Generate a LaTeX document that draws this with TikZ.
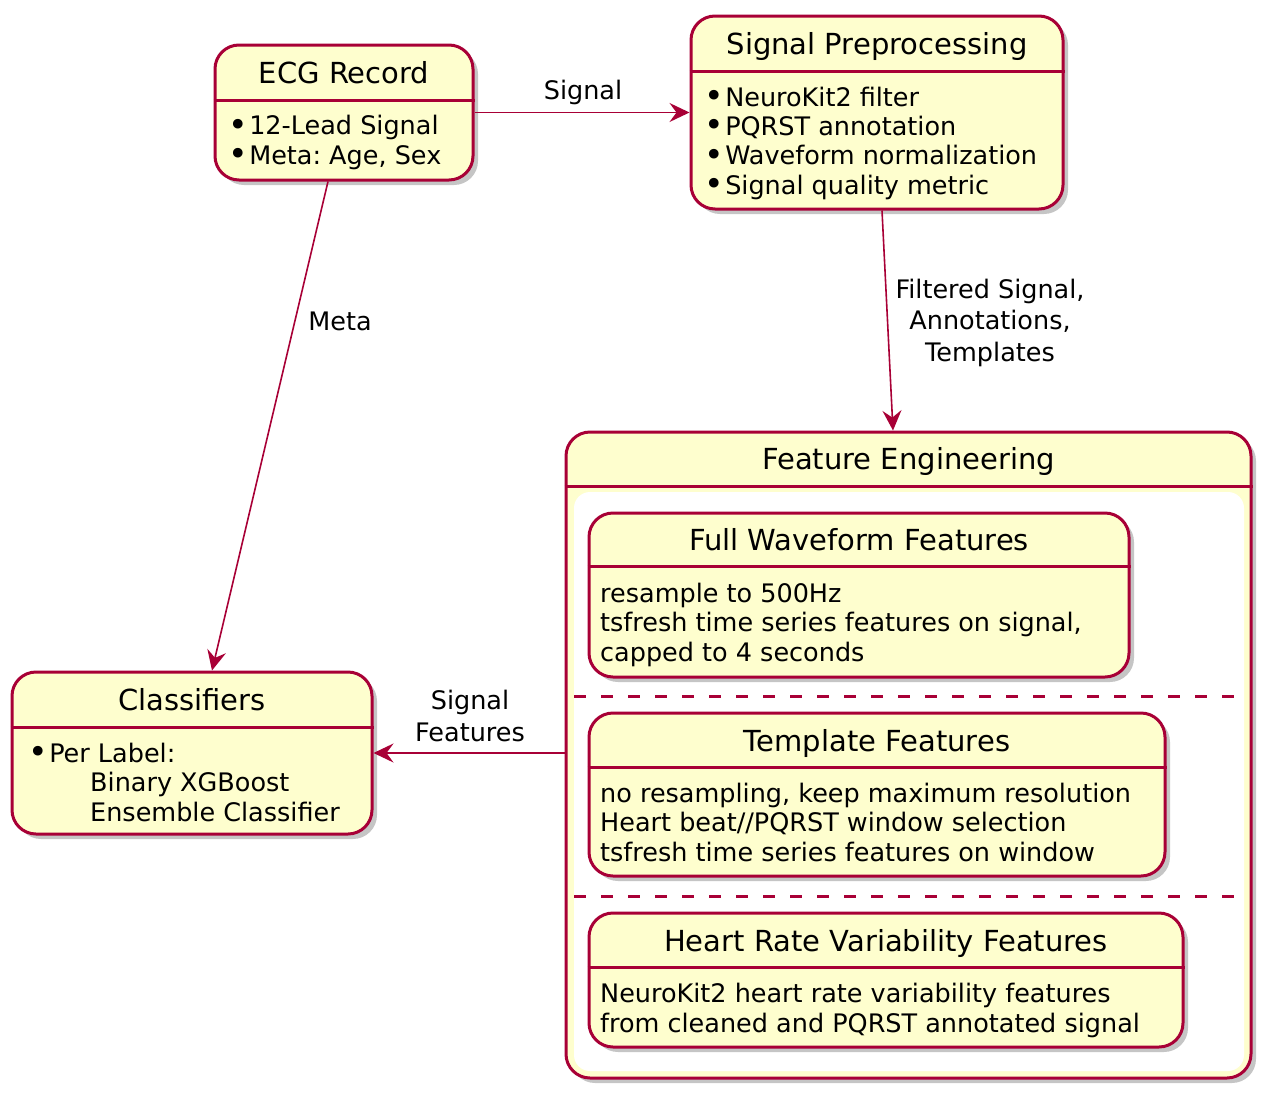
\documentclass[tikz,border=0pt]{standalone}
\usepackage{fontspec}
\setmainfont{DejaVu Sans}
\usetikzlibrary{arrows.meta, shadows, positioning}

\definecolor{umlred}{HTML}{A80036}
\definecolor{umlfill}{HTML}{FEFECE}

\frenchspacing
\newcommand{\bul}{\raisebox{-1.5pt}{\scalebox{1.3}{•}}\hspace{1.5pt}}

\tikzset{
    statebox/.style={draw=umlred, fill=umlfill, line width=3pt, rounded corners=24pt,
        inner sep=0pt, drop shadow={shadow xshift=5pt, shadow yshift=-5pt, fill=black!45, opacity=0.5}},
    sepline/.style={draw=umlred, line width=3pt},
    splitline/.style={draw=umlred, line width=3pt, dash pattern=on 12pt off 15pt},
    titletext/.style={font=\fontsize{29}{33}\selectfont, anchor=base, inner sep=0pt},
    bodytext/.style={font=\fontsize{25.5}{29.3}\selectfont, align=left, anchor=base west, inner sep=0pt},
    edgelabel/.style={font=\fontsize{25.5}{31.5}\selectfont, align=center, anchor=base, inner sep=0pt},
    flow/.style={draw=umlred, line width=1.6pt, -{Stealth[length=20pt, width=19pt, inset=7pt]}},
}

\begin{document}
\begin{tikzpicture}[x=1pt, y=-1pt]
    \useasboundingbox (0,0) rectangle (1275,1098);

    % ECG record
    \node[statebox, minimum width=258pt, minimum height=135pt] (ecg) at (344,112.5) {};
    \draw[sepline] (ecg.west |- 0,100) -- (ecg.east |- 0,100);
    \node[titletext] (ecgtitle) at (344,83) {ECG Record};
    \node[bodytext] (ecgbody) at (228,164) {\bul 12-Lead Signal\\\bul Meta: Age, Sex};

    % Signal preprocessing
    \node[statebox, minimum width=372pt, minimum height=193pt] (prep) at (877,112.5) {};
    \draw[sepline] (prep.west |- 0,71) -- (prep.east |- 0,71);
    \node[titletext] (preptitle) at (877,54.5) {Signal Preprocessing};
    \node[bodytext] (prepbody) at (704,194) {\bul NeuroKit2 filter\\\bul PQRST annotation\\%
        \bul Waveform normalization\\\bul Signal quality metric};

    % Classifiers
    \node[statebox, minimum width=360pt, minimum height=162pt] (cls) at (192,753) {};
    \draw[sepline] (cls.west |- 0,727) -- (cls.east |- 0,727);
    \node[titletext] (clstitle) at (192,710.5) {Classifiers};
    \node[bodytext] (clsbody) at (28,821) {\bul Per Label:\\\hspace*{62pt}Binary XGBoost\\%
        \hspace*{62pt}Ensemble Classifier};

    % Feature engineering (composite)
    \node[statebox, minimum width=685pt, minimum height=646pt] (feat) at (908.5,755) {};
    \draw[sepline] (feat.west |- 0,486) -- (feat.east |- 0,486);
    \node[titletext] (feattitle) at (908.5,469.5) {Feature Engineering};
    \fill[white, rounded corners=16pt] (574,492) rectangle (1244,1071);

    \node[statebox, minimum width=540pt, minimum height=164pt] (full) at (859,595) {};
    \draw[sepline] (full.west |- 0,566) -- (full.east |- 0,566);
    \node[titletext] (fulltitle) at (859,550.5) {Full Waveform Features};
    \node[bodytext] (fullbody) at (600,661) {resample to 500Hz\\tsfresh time series features on signal,\\%
        capped to 4 seconds};

    \draw[splitline] (574,696) -- (1234,696);

    \node[statebox, minimum width=576pt, minimum height=163pt] (tmpl) at (877,794.5) {};
    \draw[sepline] (tmpl.west |- 0,767) -- (tmpl.east |- 0,767);
    \node[titletext] (tmpltitle) at (877,751.5) {Template Features};
    \node[bodytext] (tmplbody) at (600,861) {no resampling, keep maximum resolution\\%
        Heart beat//PQRST window selection\\tsfresh time series features on window};

    \draw[splitline] (574,896) -- (1234,896);

    \node[statebox, minimum width=594pt, minimum height=134pt] (hrv) at (886,980) {};
    \draw[sepline] (hrv.west |- 0,967) -- (hrv.east |- 0,967);
    \node[titletext] (hrvtitle) at (886,951.5) {Heart Rate Variability Features};
    \node[bodytext] (hrvbody) at (600,1032) {NeuroKit2 heart rate variability features\\%
        from cleaned and PQRST annotated signal};

    % transitions
    \node[edgelabel] (siglabel) at (583,99) {Signal};
    \draw[flow] (ecg) -- (prep);
    \node[edgelabel] (metalabel) at (340,330) {Meta};
    \draw[flow] ([xshift=-16pt]ecg.south) -- ([xshift=20pt]cls.north);
    \node[edgelabel] (filtlabel) at (990,361) {Filtered Signal,\\Annotations,\\Templates};
    \draw[flow] ([xshift=5pt]prep.south) -- ([xshift=-15.5pt]feat.north);
    \node[edgelabel] (featlabel) at (470,741) {Signal\\Features};
    \draw[flow] (feat.west |- cls.east) -- (cls.east);
\end{tikzpicture}
\end{document}
